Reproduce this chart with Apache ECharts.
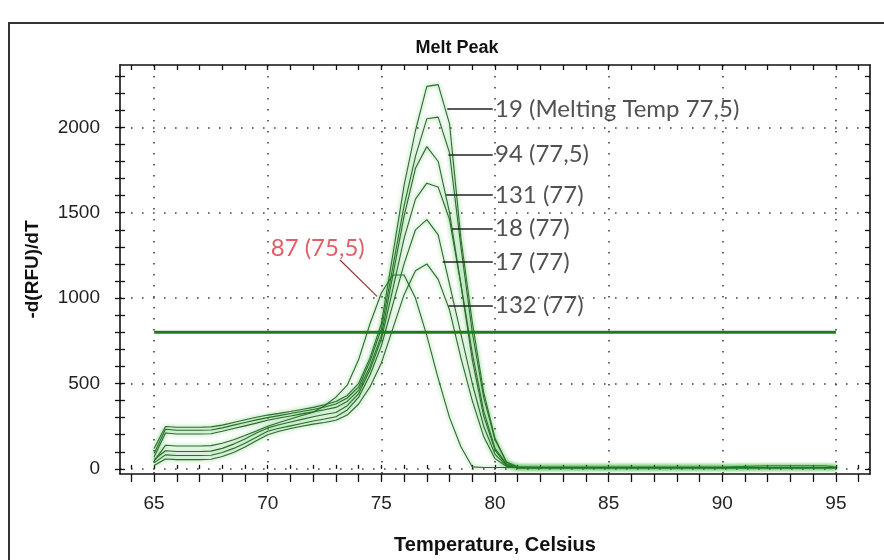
<!DOCTYPE html>
<html>
<head>
<meta charset="utf-8">
<script src="https://cdn.jsdelivr.net/npm/echarts@6/dist/echarts.min.js"></script>
<style>
html,body{margin:0;padding:0;background:#fff;}
#chart{width:884px;height:560px;}
</style>
</head>
<body>
<div id="chart"></div>
<script>
// ---- data ----
const temps = [65,65.5,66,66.5,67,67.5,68,68.5,69,69.5,70,70.5,71,71.5,72,72.5,73,73.5,74,74.5,75,75.5,76,76.5,77,77.5,78,78.5,79,79.5,80,80.5,81,82,86,90,92,94.5,95];
const s19  = [120,248,244,244,244,246,256,272,288,302,315,325,336,348,360,375,395,430,500,650,850,1250,1660,1980,2240,2250,2020,1350,860,450,180,40,12,10,10,10,18,18,10];
const s94  = [90,232,226,226,226,228,240,256,272,287,300,312,324,336,348,362,380,415,480,630,820,1180,1540,1830,2050,2060,1850,1300,800,420,170,40,10,8,8,8,8,8,8];
const s131 = [70,210,204,204,204,206,220,236,252,268,285,298,310,322,334,346,360,395,460,600,780,1130,1480,1760,1887,1800,1500,1080,680,340,120,30,8,8,8,8,8,8,8];
const s18  = [55,106,102,102,102,104,120,145,175,210,240,258,274,290,305,318,330,370,440,580,760,1050,1350,1580,1673,1650,1460,1080,640,310,110,25,8,8,8,8,8,8,8];
const s17  = [35,82,78,78,78,80,96,120,150,185,220,238,252,266,280,292,305,345,420,550,720,960,1200,1400,1460,1370,1080,790,500,250,85,20,6,6,6,6,6,6,6];
const s132 = [20,58,54,54,54,56,72,96,128,165,200,220,236,250,262,272,285,315,380,480,620,820,1020,1160,1200,1110,930,650,400,190,60,15,5,5,5,5,5,5,5];
const s87  = [45,138,134,134,134,136,150,170,195,222,250,272,292,312,332,370,420,490,640,850,1030,1135,1135,1000,780,530,300,130,12,8,8,8,8,8,8,8,8,8,8];
const curveNames = ['19','94','131','18','17','132','87'];

const threshold = 800;
const thresholdRange = [65, 95];

const annoLabels = ['19 (Melting Temp 77,5)','94 (77,5)','131 (77)','18 (77)','17 (77)','132 (77)'];
const annoY      = [2106, 1842, 1605, 1409, 1211, 956];
const annoX0     = [77.9, 77.95, 77.85, 78.1, 77.7, 77.95];
const annoX1     = 79.9;
const annoTextX  = 80.0;

const redLabel = '87 (75,5)';
const redLabelPos = [72.2, 1290];
const redLeader = [[73.18, 1223], [74.81, 1010]];

const xMajorTicks = [65,70,75,80,85,90,95];
const xMinorTicks = [64,65,66,67,68,69,70,71,72,73,74,75,76,77,78,79,80,81,82,83,84,85,86,87,88,89,90,91,92,93,94,95,96];
const yMajorTicks = [0,500,1000,1500,2000];
const yMinorTicks = [0,100,200,300,400,500,600,700,800,900,1000,1100,1200,1300,1400,1500,1600,1700,1800,1900,2000,2100,2200,2300];

// ---- chart ----
const allCurves = [s19, s94, s131, s18, s17, s132, s87];
const X_MIN = 63.5, X_MAX = 96.5, Y_MIN = -30, Y_MAX = 2365;
const narrow = '"Liberation Sans Narrow","Arial Narrow","Liberation Sans",sans-serif';
const annoFont = 'Lato,"Open Sans",sans-serif';
const axisCol = '#111';

const chart = echarts.init(document.getElementById('chart'), null, {renderer:'canvas'});

function xa(extra){ return Object.assign({type:'value', min:X_MIN, max:X_MAX, position:'bottom',
  axisLine:{show:false}, axisTick:{show:false}, axisLabel:{show:false}, splitLine:{show:false}}, extra); }
function ya(extra){ return Object.assign({type:'value', min:Y_MIN, max:Y_MAX, position:'left',
  axisLine:{show:false}, axisTick:{show:false}, axisLabel:{show:false}, splitLine:{show:false}}, extra); }

const dotted = {color:'#444', width:1.6, type:[1.6, 9.4]};

const series = allCurves.map((arr, i) => ({
  name: curveNames[i], type:'line', xAxisIndex:0, yAxisIndex:0,
  data: temps.map((t, k) => [t, arr[k]]),
  showSymbol:false, symbol:'none', z:3,
  lineStyle:{color:'#2d6a30', width:1.1, shadowColor:'rgba(30,170,30,0.7)', shadowBlur:4},
  animation:false
}));

series.push({
  name:'threshold', type:'line', xAxisIndex:0, yAxisIndex:0, symbol:'none', z:4,
  data: thresholdRange.map(t => [t, threshold]),
  lineStyle:{color:'#1f7a22', width:3}, animation:false
});

series.push({
  name:'leaders', type:'lines', coordinateSystem:'cartesian2d', xAxisIndex:0, yAxisIndex:0, z:5,
  data: annoLabels.map((l, i) => ({coords:[[annoX0[i], annoY[i]], [annoX1, annoY[i]]]})),
  lineStyle:{color:'#222', width:1.6, opacity:1}, symbol:'none', animation:false
});

series.push({
  name:'redLeader', type:'lines', coordinateSystem:'cartesian2d', xAxisIndex:0, yAxisIndex:0, z:5,
  data: [{coords: redLeader}],
  lineStyle:{color:'#8a3a3e', width:1.2, opacity:1}, symbol:'none', animation:false
});

series.push({
  name:'annoText', type:'scatter', xAxisIndex:0, yAxisIndex:0, symbolSize:0, z:6,
  data: annoLabels.map((l, i) => ({name:l, value:[annoTextX, annoY[i]]})),
  label:{show:true, position:'inside', align:'left', verticalAlign:'middle', formatter:'{b}',
    color:'#262626', fontSize:24, fontFamily:annoFont},
  silent:true, animation:false
});

series.push({
  name:'redText', type:'scatter', xAxisIndex:0, yAxisIndex:0, symbolSize:0, z:6,
  data: [{name:redLabel, value:redLabelPos}],
  label:{show:true, position:'inside', align:'center', verticalAlign:'middle', formatter:'{b}',
    color:'#d9363e', fontSize:24, fontFamily:annoFont},
  silent:true, animation:false
});

const plainNum = v => String(Math.round(v));

const option = {
  backgroundColor:'#ffffff',
  animation:false,
  title:{text:'Melt Peak', left:452, top:34, textAlign:'center',
    textStyle:{fontFamily:narrow, fontWeight:'bold', fontSize:18, color:'#111'}},
  grid:{left:120, right:14, top:65, bottom:80, containLabel:false},
  graphic:[{type:'rect', shape:{x:9, y:23, width:1000, height:700}, style:{fill:'none', stroke:'#333', lineWidth:2}, z:-1}],
  xAxis:[
    xa({axisLine:{show:true, onZero:false, lineStyle:{color:axisCol, width:1.6}},
        axisTick:{show:true, customValues:xMinorTicks, length:8, lineStyle:{color:axisCol, width:1.3}},
        axisLabel:{show:true, customValues:xMajorTicks, margin:20, color:'#222', fontSize:19, fontFamily:narrow, formatter:plainNum},
        name:'Temperature, Celsius', nameLocation:'middle', nameGap:61,
        nameTextStyle:{fontFamily:narrow, fontWeight:'bold', fontSize:20, color:'#111'}}),
    xa({axisTick:{show:true, inside:true, customValues:xMinorTicks, length:4, lineStyle:{color:axisCol, width:1.3}}}),
    xa({position:'top', axisLine:{show:true, onZero:false, lineStyle:{color:axisCol, width:1.6}},
        axisTick:{show:true, inside:true, customValues:xMinorTicks, length:5, lineStyle:{color:axisCol, width:1.3}}}),
    xa({axisTick:{show:false, customValues:xMajorTicks}, splitLine:{show:true, lineStyle:dotted}})
  ],
  yAxis:[
    ya({axisLine:{show:true, onZero:false, lineStyle:{color:axisCol, width:1.6}},
        axisTick:{show:true, customValues:yMinorTicks, length:5, lineStyle:{color:axisCol, width:1.3}},
        axisLabel:{show:true, customValues:yMajorTicks, margin:20, color:'#222', fontSize:19, fontFamily:narrow, formatter:plainNum},
        name:'-d(RFU)/dT', nameLocation:'middle', nameGap:78, nameRotate:90,
        nameTextStyle:{fontFamily:narrow, fontWeight:'bold', fontSize:19, color:'#111'}}),
    ya({axisTick:{show:true, inside:true, customValues:yMinorTicks, length:5, lineStyle:{color:axisCol, width:1.3}}}),
    ya({position:'right', axisLine:{show:true, onZero:false, lineStyle:{color:axisCol, width:1.6}},
        axisTick:{show:true, inside:true, customValues:yMinorTicks, length:5, lineStyle:{color:axisCol, width:1.3}}}),
    ya({axisTick:{show:false, customValues:yMajorTicks}, splitLine:{show:true, lineStyle:dotted}})
  ],
  series: series
};
chart.setOption(option);
</script>
</body>
</html>
